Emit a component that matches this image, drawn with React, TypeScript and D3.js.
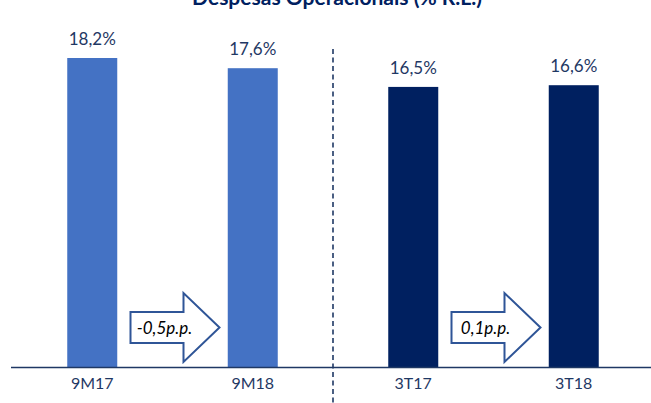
import React from "react";
import * as d3 from "d3";

const categories = ["9M17", "9M18", "3T17", "3T18"];
const values = [18.2, 17.6, 16.5, 16.6];
const valueLabels = ["18,2%", "17,6%", "16,5%", "16,6%"];
const barColors = ["#4472C4", "#4472C4", "#002060", "#002060"];
const deltaLabels = ["-0,5p.p.", "0,1p.p."];
const title = "Despesas Operacionais (% R.L.)";

const W = 651;
const H = 403;
const FONT = "Lato, 'Open Sans', sans-serif";

export default function App() {
  const axisY = 367.5;
  const x = d3.scalePoint<string>().domain(categories).range([12, 654]).padding(0.5);
  const y = d3.scaleLinear().domain([0, 18.2]).range([axisY, 58]);
  const barW = 50;
  const text = "#1F3864";

  const mid1 = ((x(categories[0]) as number) + (x(categories[1]) as number)) / 2;
  const mid2 = ((x(categories[2]) as number) + (x(categories[3]) as number)) / 2;
  const arrowPath = (m: number) => {
    const l = m - 42, hx = m + 11, tip = m + 47;
    const bt = 312, bb = 343, ht = 293, hb = 362, cy = 327.5;
    return `M${l},${bt} L${hx},${bt} L${hx},${ht} L${tip},${cy} L${hx},${hb} L${hx},${bb} L${l},${bb} Z`;
  };
  const divX = ((x(categories[1]) as number) + (x(categories[2]) as number)) / 2;

  return (
    <svg width={W} height={H} style={{ position: "absolute", left: 0, top: 0, background: "#fff" }}>
      <text x={337} y={5} textAnchor="middle" fontFamily={FONT} fontWeight="bold" fontSize={21} fill="#002060">
        {title}
      </text>
      {categories.map((c, i) => {
        const cx = x(c) as number;
        return (
          <g key={c}>
            <rect x={cx - barW / 2} y={y(values[i])} width={barW} height={axisY - y(values[i])} fill={barColors[i]} />
            <text x={cx} y={y(values[i]) - 13} textAnchor="middle" fontFamily={FONT} fontSize={17} fill={text}>
              {valueLabels[i]}
            </text>
            <text x={cx} y={389} textAnchor="middle" fontFamily={FONT} fontSize={16} fill={text}>
              {c}
            </text>
          </g>
        );
      })}
      <line x1={11} x2={651} y1={axisY} y2={axisY} stroke="#1F3864" strokeWidth={1.5} />
      <line x1={divX} x2={divX} y1={49} y2={H} stroke="#1F3864" strokeWidth={1.6} strokeDasharray="5 3.5" />
      {[mid1, mid2].map((m, i) => (
        <g key={i}>
          <path d={arrowPath(m)} fill="#fff" stroke="#2F5597" strokeWidth={2} strokeLinejoin="miter" />
          <text x={m - 8} y={334} textAnchor="middle" fontFamily={FONT} fontStyle="italic" fontSize={17} fill="#000">
            {deltaLabels[i]}
          </text>
        </g>
      ))}
    </svg>
  );
}
